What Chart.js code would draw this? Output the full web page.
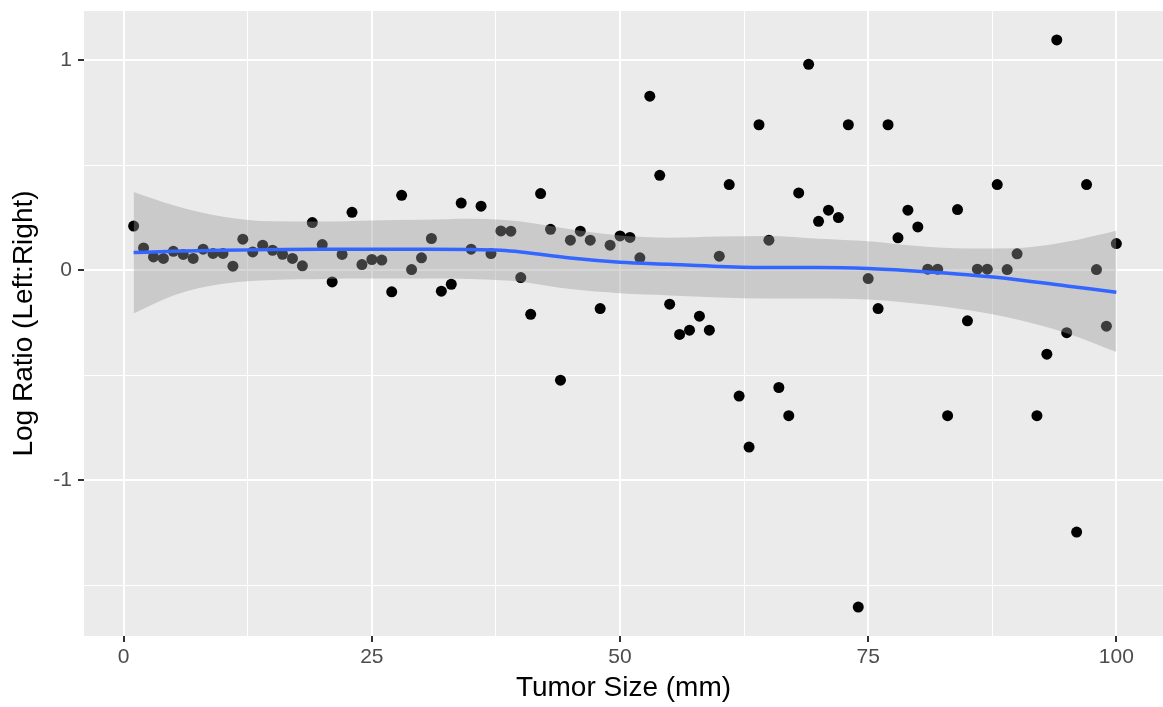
<!DOCTYPE html>
<html>
<head>
<meta charset="utf-8">
<script src="https://cdn.jsdelivr.net/npm/chart.js@4"></script>
<style>
html,body{margin:0;padding:0;background:#fff;}
#wrap{width:1163px;height:707px;position:relative;}
</style>
</head>
<body>
<div id="wrap"><canvas id="c"></canvas></div>
<script>
// Observed points: tumor size (mm) and log ratio (x = 91 absent)
const tumorSize = [1,2,3,4,5,6,7,8,9,10,11,12,13,14,15,16,17,18,19,20,21,22,23,24,25,26,27,28,29,30,31,32,33,34,35,36,37,38,39,40,41,42,43,44,45,46,47,48,49,50,51,52,53,54,55,56,57,58,59,60,61,62,63,64,65,66,67,68,69,70,71,72,73,74,75,76,77,78,79,80,81,82,83,84,85,86,87,88,89,90,92,93,94,95,96,97,98,99,100];
const logRatio = [0.21,0.106,0.063,0.056,0.09,0.075,0.056,0.10,0.08,0.08,0.019,0.148,0.087,0.119,0.095,0.076,0.056,0.021,0.227,0.122,-0.056,0.075,0.276,0.027,0.051,0.048,-0.103,0.357,0.003,0.059,0.151,-0.10,-0.067,0.32,0.10,0.305,0.079,0.187,0.186,-0.035,-0.21,0.365,0.195,-0.524,0.143,0.186,0.143,-0.183,0.119,0.163,0.156,0.059,0.829,0.452,-0.162,-0.306,-0.286,-0.219,-0.286,0.067,0.408,-0.60,-0.843,0.693,0.143,-0.559,-0.693,0.368,0.981,0.233,0.286,0.251,0.693,-1.605,-0.04,-0.183,0.693,0.154,0.286,0.206,0.005,0.005,-0.693,0.289,-0.241,0.005,0.005,0.408,0.003,0.078,-0.693,-0.40,1.097,-0.298,-1.248,0.408,0.003,-0.267,0.127];

// Smoothed fit (loess) with confidence band, read at these sizes
const fitX     = [1,5,10,15,20,25,30,35,38,40,45,50,55,60,65,70,75,80,85,90,95,100];
const fitY     = [0.084,0.09,0.095,0.098,0.1,0.1,0.1,0.099,0.095,0.087,0.058,0.038,0.028,0.018,0.013,0.013,0.008,-0.005,-0.022,-0.045,-0.075,-0.105];
const bandHigh = [0.373,0.31,0.255,0.233,0.232,0.237,0.240,0.245,0.240,0.232,0.195,0.165,0.155,0.16,0.163,0.15,0.138,0.115,0.103,0.105,0.135,0.188];
const bandLow  = [-0.206,-0.12,-0.065,-0.047,-0.042,-0.04,-0.04,-0.042,-0.048,-0.055,-0.09,-0.11,-0.12,-0.13,-0.135,-0.135,-0.14,-0.16,-0.19,-0.235,-0.30,-0.39];

// Axis ticks (major labelled, minor unlabelled)
const xTicks = [0,12.5,25,37.5,50,62.5,75,87.5,100];
const xMajor = [0,25,50,75,100];
const yTicks = [-1.5,-1,-0.5,0,0.5,1];
const yMajor = [-1,0,1];
const xTitle = 'Tumor Size (mm)';
const yTitle = 'Log Ratio (Left:Right)';

const pts = tumorSize.map((x,i)=>({x:x,y:logRatio[i]}));
const fitPts = fitX.map((x,i)=>({x:x,y:fitY[i]}));
const hiPts = fitX.map((x,i)=>({x:x,y:bandHigh[i]}));
const loPts = fitX.map((x,i)=>({x:x,y:bandLow[i]}));

const panelBg = {
  id:'panelBg',
  beforeDraw(chart){
    const {ctx, chartArea:a} = chart;
    ctx.save();
    ctx.fillStyle = '#EBEBEB';
    ctx.fillRect(a.left, a.top, a.right-a.left, a.bottom-a.top);
    ctx.restore();
  }
};

const FONT = "'Liberation Sans', Arial, Helvetica, sans-serif";
const isMaj = (arr,v)=>arr.some(m=>Math.abs(m-v)<1e-9);

new Chart(document.getElementById('c'), {
  type:'scatter',
  data:{
    datasets:[
      {type:'scatter', data:pts, backgroundColor:'#000', borderWidth:0, pointRadius:5.5, pointHoverRadius:5.5, order:3},
      {type:'line', data:hiPts, borderWidth:0, pointRadius:0, fill:'+1', backgroundColor:'rgba(153,153,153,0.4)', borderColor:'rgba(0,0,0,0)', tension:0.4, cubicInterpolationMode:'monotone', order:2},
      {type:'line', data:loPts, borderWidth:0, pointRadius:0, fill:false, borderColor:'rgba(0,0,0,0)', tension:0.4, cubicInterpolationMode:'monotone', order:2},
      {type:'line', data:fitPts, borderColor:'#3366FF', borderWidth:3.5, pointRadius:0, fill:false, cubicInterpolationMode:'monotone', order:1}
    ]
  },
  options:{
    responsive:true,
    maintainAspectRatio:false,
    animation:false,
    layout:{autoPadding:false, padding:{top:11,right:0,left:0,bottom:0}},
    plugins:{legend:{display:false}, tooltip:{enabled:false}},
    scales:{
      x:{
        type:'linear', min:-4.0, max:104.7,
        afterBuildTicks(s){ s.ticks = xTicks.map(v=>({value:v})); },
        afterFit(s){ s.height = 71; s.paddingLeft = 0; s.paddingRight = 0; },
        border:{display:false},
        grid:{
          color:(c)=>'#FFFFFF',
          lineWidth:(c)=>isMaj(xMajor,c.tick.value)?2:1,
          tickColor:(c)=>isMaj(xMajor,c.tick.value)?'#333333':'rgba(0,0,0,0)',
          tickWidth:2, tickLength:6, drawTicks:true
        },
        ticks:{
          color:'#4D4D4D', font:{family:FONT,size:21}, padding:3, maxRotation:0, autoSkip:false,
          callback:(v)=>isMaj(xMajor,v)?String(v):''
        },
        title:{display:true, text:xTitle, color:'#000', font:{family:FONT,size:28}, padding:{top:0,bottom:2}}
      },
      y:{
        type:'linear', min:-1.743, max:1.235,
        afterBuildTicks(s){ s.ticks = yTicks.map(v=>({value:v})); },
        afterFit(s){ s.width = 84; s.paddingTop = 0; s.paddingBottom = 0; },
        border:{display:false},
        grid:{
          color:(c)=>'#FFFFFF',
          lineWidth:(c)=>isMaj(yMajor,c.tick.value)?2:1,
          tickColor:(c)=>isMaj(yMajor,c.tick.value)?'#333333':'rgba(0,0,0,0)',
          tickWidth:2, tickLength:6, drawTicks:true
        },
        ticks:{
          color:'#4D4D4D', font:{family:FONT,size:21}, padding:6, autoSkip:false,
          callback:(v)=>isMaj(yMajor,v)?String(v):''
        },
        title:{display:true, text:yTitle, color:'#000', font:{family:FONT,size:28}, padding:{top:7,bottom:0}}
      }
    }
  },
  plugins:[panelBg]
});
</script>
</body>
</html>
